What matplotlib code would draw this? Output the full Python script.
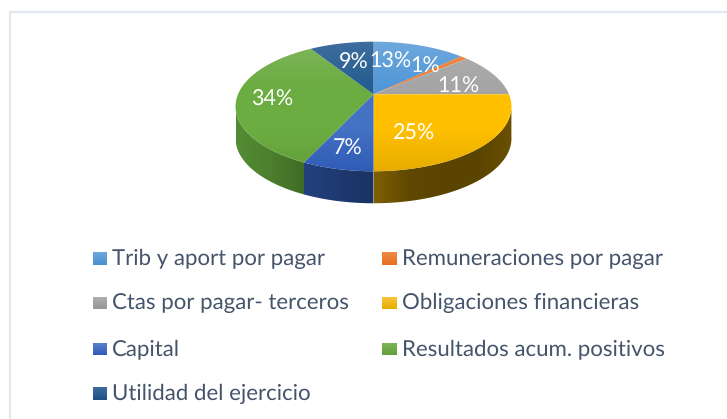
import numpy as np
import matplotlib
matplotlib.use('Agg')
import matplotlib.pyplot as plt
from matplotlib.colors import to_rgb
from matplotlib.patches import Polygon

plt.rcParams['text.hinting'] = 'none'

labels = ['Trib y aport por pagar', 'Remuneraciones por pagar', 'Ctas por pagar- terceros',
          'Obligaciones financieras', 'Capital', 'Resultados acum. positivos', 'Utilidad del ejercicio']
values = [13, 1, 11, 25, 7, 34, 9]
top_light = ['#6fa8dc', '#f08a4b', '#b0b0b0', '#fdc63c', '#5f83d0', '#80b55c', '#3f6d9e']
top_mid = ['#5298d8', '#ed7d31', '#a5a5a5', '#ffc000', '#4472c4', '#6cad42', '#255e91']
top_low = ['#4a90d0', '#e56f20', '#969696', '#e6ad00', '#2f5bb5', '#62a03a', '#1c5187']
side_cols = {3: ['#7f6000', '#604800', '#5a4400', '#5a4400', '#6b5000'],
             4: ['#22417e', '#1a3263'],
             5: ['#558c33', '#4c7f2e', '#3f6b25']}

# pie plane -> picture, the pie is seen in perspective so its centre sits above the ellipse centre
cx, cy = 373.5, 94.3
A, B, C = 135.5, 62.5, 0.188
depth = 32

fig = plt.figure(figsize=(7.27, 4.19), dpi=100)
ax = fig.add_axes([0, 0, 1, 1])
ax.set_xlim(0, 727)
ax.set_ylim(419, 0)
ax.axis('off')

ax.plot([9.5, 9.5, 727], [419, 12, 12], color='#e3e8ee', lw=1.6, solid_joinstyle='miter')


def project(t):
    x = np.sin(t)
    y = -np.cos(t)
    d = 1 - C * y
    return cx + A * x / d, cy + B * y / d


def gradient(poly, cols, extent, vertical=True):
    pos = np.linspace(0, 1, len(cols))
    s = np.linspace(0, 1, 256)
    rgb = np.array([to_rgb(c) for c in cols])
    g = np.stack([np.interp(s, pos, rgb[:, i]) for i in range(3)], axis=-1)
    g = g[:, None, :] if vertical else g[None, :, :]
    im = ax.imshow(g, extent=extent, aspect='auto', origin='upper', interpolation='bilinear')
    im.set_clip_path(poly)


edges = np.cumsum([0] + values) / sum(values) * 2 * np.pi

# side wall first, only the front half can be seen
for i, cols in side_cols.items():
    t = np.linspace(edges[i], edges[i + 1], 80)
    px, py = project(t)
    keep = py >= 104
    px, py = px[keep], py[keep]
    pts = np.r_[np.c_[px, py], np.c_[px[::-1], py[::-1] + depth]]
    poly = Polygon(pts, closed=True, fc='none', ec='none')
    ax.add_patch(poly)
    gradient(poly, cols, [min(px), max(px), 419, 0], vertical=False)

# top face
for i in range(len(values)):
    t = np.linspace(edges[i], edges[i + 1], 80)
    px, py = project(t)
    pts = np.r_[[[cx, cy]], np.c_[px, py]]
    poly = Polygon(pts, closed=True, fc='none', ec='none')
    ax.add_patch(poly)
    gradient(poly, [top_light[i], top_mid[i], top_mid[i], top_low[i]], [200, 540, 172, 42])

# percent labels, placed by hand like in the original
pct_xy = [(390, 62), (425, 67), (458, 87), (414, 134), (348, 149), (272, 100), (354, 63)]
for v, (x, y) in zip(values, pct_xy):
    ax.text(x, y, '%d%%' % v, color='white', fontsize=15.5, family='Lato', ha='center', va='center')

# legend
leg_x = [92.5, 382]
leg_y = [258.5, 303, 349, 393.5]
for i, name in enumerate(labels):
    x = leg_x[i % 2]
    y = leg_y[i // 2]
    sq = Polygon([(x, y - 6.5), (x + 14.5, y - 6.5), (x + 14.5, y + 6.5), (x, y + 6.5)],
                 closed=True, fc='none', ec='none')
    ax.add_patch(sq)
    gradient(sq, [top_light[i], top_low[i]], [x, x + 14.5, y + 6.5, y - 6.5])
    ax.text(x + 19.5, y, name, color='#44546a', fontsize=16, family='Lato', ha='left', va='center')

ax.set_xlim(0, 727)
ax.set_ylim(419, 0)

fig.savefig('out.png', dpi=100)
